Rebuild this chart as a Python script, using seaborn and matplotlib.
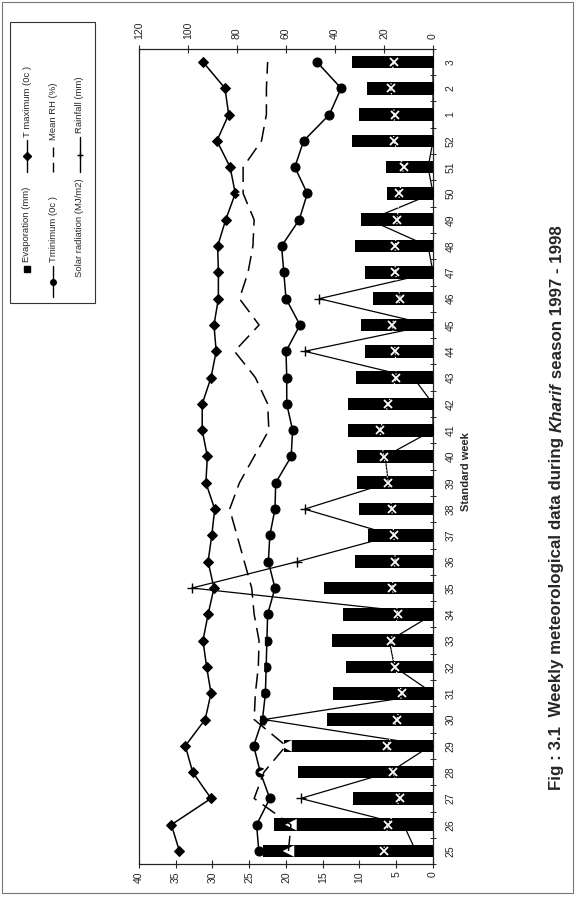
import numpy as np
import pandas as pd
import matplotlib
matplotlib.use("Agg")
import matplotlib.pyplot as plt
import seaborn as sns
from matplotlib.lines import Line2D
from matplotlib.patches import Rectangle

# ---------------- data ----------------
weeks = [25, 26, 27, 28, 29, 30, 31, 32, 33, 34, 35, 36, 37, 38, 39, 40,
         41, 42, 43, 44, 45, 46, 47, 48, 49, 50, 51, 52, 1, 2, 3]
evaporation = [23.1, 21.7, 10.9, 18.3, 20.3, 14.4, 13.6, 11.8, 13.7, 12.2, 14.8,
               10.6, 8.8, 10.0, 10.4, 10.4, 11.6, 11.6, 10.5, 9.3, 9.8, 8.2,
               9.3, 10.6, 9.8, 6.3, 6.4, 11.0, 10.1, 9.0, 11.0]
t_max = [34.5, 35.6, 30.2, 32.7, 33.7, 31.0, 30.2, 30.8, 31.3, 30.6, 29.8,
         30.6, 30.1, 29.7, 30.9, 30.7, 31.4, 31.4, 30.2, 29.5, 29.8, 29.2,
         29.2, 29.3, 28.2, 26.9, 27.6, 29.4, 27.8, 28.3, 31.3]
t_min = [23.7, 24.0, 22.2, 23.5, 24.4, 23.2, 22.8, 22.7, 22.6, 22.5, 21.5,
         22.4, 22.2, 21.5, 21.4, 19.3, 19.1, 19.9, 19.9, 20.0, 18.1, 20.0,
         20.3, 20.6, 18.2, 17.1, 18.8, 17.6, 14.1, 12.5, 15.8]
mean_rh = [59, 58, 73, 69, 60, 73, 72.5, 71.3, 71, 73, 74, 77, 80, 83, 79,
           73, 67, 67.5, 72.5, 81, 71, 79, 75.5, 73.5, 73, 77.5, 77.5, 70,
           68, 68, 67.5]
rainfall = [7, 12, 54, 17.6, 1, 69, 0, 15.7, 17.8, 0, 98.4, 55.5, 16, 52.4,
            18.2, 19.6, 0, 0, 8, 52.4, 1, 46.4, 0, 2, 26, 0, 2, 0, 0, 0, 0]
solar = [20.2, 18.3, 13.3, 16.4, 18.6, 14.7, 12.7, 15.4, 17.3, 14.1, 16.8,
         15.4, 16.0, 16.8, 18.2, 20.1, 21.7, 18.2, 15.0, 15.4, 16.7, 13.3,
         15.4, 15.4, 14.6, 13.7, 12.0, 16.1, 15.7, 17.3, 16.1]
left_ticks = [0, 5, 10, 15, 20, 25, 30, 35, 40]
right_ticks = [0, 20, 40, 60, 80, 100, 120]
legend_labels = ["Evaporation (mm)", "T maximum (0c )", "Tminimum (0c )",
                 "Mean RH (%)", "Solar radiation (MJ/m2)", "Rainfall (mm)"]
caption_parts = ["Fig : 3.1  Weekly meteorological data during ", "Kharif",
                 " season 1997 - 1998"]

# ---------------- setup ----------------
sns.set_style("white")
plt.rcParams["font.family"] = ["Liberation Sans", "DejaVu Sans"]

W, H = 576, 897
fig = plt.figure(figsize=(W / 100, H / 100), dpi=100)


def fx(x):
    return x / W


def fy(y):
    return 1 - y / H


ax = fig.add_axes([fx(139), fy(864.2), (433 - 139) / W, (864.2 - 48.8) / H])

week_str = [str(w) for w in weeks]
order = week_str[::-1]
ypos = [order.index(s) for s in week_str]

df = pd.DataFrame({"week": week_str, "evap": evaporation})
sns.barplot(data=df, x="evap", y="week", order=order, orient="y",
            color="black", saturation=1, width=0.48, linewidth=0, ax=ax)

sns.lineplot(x=t_max, y=ypos, orient="y", sort=False, estimator=None, ax=ax,
             color="black", linewidth=1.1, marker="D", markersize=5.5,
             markeredgecolor="black")
sns.lineplot(x=t_min, y=ypos, orient="y", sort=False, estimator=None, ax=ax,
             color="black", linewidth=1.1, marker="o", markersize=6.5,
             markeredgecolor="black")

ax2 = ax.twiny()
# Mean RH: white triangle markers (only visible on the bars) under a dashed line
sns.scatterplot(x=mean_rh, y=ypos, ax=ax2, marker="<", s=70, color="white",
                edgecolor="none", zorder=2)
sns.lineplot(x=mean_rh, y=ypos, orient="y", sort=False, estimator=None, ax=ax2,
             color="black", linewidth=1.1, zorder=3)
ax2.lines[-1].set_dashes([10, 5])
sns.lineplot(x=rainfall, y=ypos, orient="y", sort=False, estimator=None, ax=ax2,
             color="black", linewidth=0.9, marker="+", markersize=7,
             markeredgewidth=1.0, markeredgecolor="black", zorder=3)
sns.lineplot(x=solar, y=ypos, orient="y", sort=False, estimator=None, ax=ax2,
             color="white", linewidth=0.9, linestyle=":", marker="x",
             markersize=6, markeredgewidth=1.3, markeredgecolor="white",
             zorder=4)

ax.set_xlim(40, 0)
ax2.set_xlim(120, 0)
ax.set_ylim(len(weeks) - 0.5, -0.5)

# ticks
ax.set_xticks(left_ticks)
ax.set_xticklabels([str(t) for t in left_ticks], rotation=90)
ax.tick_params(axis="x", direction="inout", length=6, width=0.8,
               labelsize=7.5, pad=2)
ax2.set_xticks(right_ticks)
ax2.set_xticklabels([str(t) for t in right_ticks], rotation=90)
ax2.tick_params(axis="x", direction="inout", length=6, width=0.8,
                labelsize=7.5, pad=4)

ax.yaxis.tick_right()
ax.set_yticks(range(len(order)))
ax.set_yticklabels(order)
ax.tick_params(axis="y", which="major", length=0, labelsize=7.5, pad=9,
               labelrotation=90)
for lab in ax.get_yticklabels():
    lab.set_va("center")
ax.set_yticks(np.arange(-0.5, len(order), 1), minor=True)
ax.tick_params(axis="y", which="minor", length=4, width=0.7,
               direction="inout", right=True, left=False)

ax.set_xlabel("")
ax.set_ylabel("")
ax2.set_xlabel("")
ax2.set_ylabel("")
for a in (ax, ax2):
    for s in a.spines.values():
        s.set_linewidth(0.8)
        s.set_color("#222222")

# axis title
fig.text(fx(466), fy(472), "Standard week", rotation=90, ha="center",
         va="center", fontsize=8, fontweight="bold")

# caption (three pieces, middle italic)
renderer = fig.canvas.get_renderer()
cur_y = 790
for i, part in enumerate(caption_parts):
    t = fig.text(fx(557), fy(cur_y), part, rotation=90, ha="center",
                 va="bottom", fontsize=12.2, fontweight="bold",
                 fontstyle="italic" if i == 1 else "normal")
    bb = t.get_window_extent(renderer=renderer)
    cur_y = H - bb.y1

# legend (drawn rotated, manually)
tf = fig.transFigure
fig.add_artist(Rectangle((fx(10), fy(303)), 85 / W, (303 - 22) / H,
                         fill=False, lw=0.8, edgecolor="#333333", transform=tf))
fs_leg = 6.8
# Evaporation
fig.add_artist(Line2D([fx(27)], [fy(269)], marker="s", markersize=5,
                      color="black", linestyle="none", transform=tf))
fig.text(fx(27), fy(262), legend_labels[0], rotation=90, ha="center",
         va="bottom", fontsize=fs_leg)
# T maximum
fig.add_artist(Line2D([fx(27), fx(27)], [fy(172), fy(140)], color="black",
                      lw=1.0, transform=tf))
fig.add_artist(Line2D([fx(27)], [fy(156)], marker="D", markersize=4,
                      color="black", linestyle="none", transform=tf))
fig.text(fx(27), fy(137), legend_labels[1], rotation=90, ha="center",
         va="bottom", fontsize=fs_leg)
# Tminimum
fig.add_artist(Line2D([fx(53), fx(53)], [fy(297), fy(266)], color="black",
                      lw=1.0, transform=tf))
fig.add_artist(Line2D([fx(53)], [fy(282)], marker="o", markersize=4,
                      color="black", linestyle="none", transform=tf))
fig.text(fx(53), fy(262), legend_labels[2], rotation=90, ha="center",
         va="bottom", fontsize=fs_leg)
# Mean RH
ln = Line2D([fx(53), fx(53)], [fy(172), fy(143)], color="black", lw=1.0,
            transform=tf)
ln.set_dashes([7, 4])
fig.add_artist(ln)
fig.text(fx(53), fy(140), legend_labels[3], rotation=90, ha="center",
         va="bottom", fontsize=fs_leg)
# Solar radiation (white sample, invisible on white)
fig.text(fx(80), fy(277), legend_labels[4], rotation=90, ha="center",
         va="bottom", fontsize=fs_leg)
# Rainfall
fig.add_artist(Line2D([fx(80), fx(80)], [fy(172), fy(137)], color="black",
                      lw=1.0, transform=tf))
fig.add_artist(Line2D([fx(80)], [fy(155)], marker="+", markersize=5,
                      color="black", linestyle="none", transform=tf))
fig.text(fx(80), fy(133), legend_labels[5], rotation=90, ha="center",
         va="bottom", fontsize=fs_leg)

# page border of the scan
fig.add_artist(Rectangle((fx(2), fy(893)), 571 / W, 891 / H, fill=False,
                         lw=0.8, edgecolor="#777777", transform=tf))

fig.savefig("out.png", dpi=100)
